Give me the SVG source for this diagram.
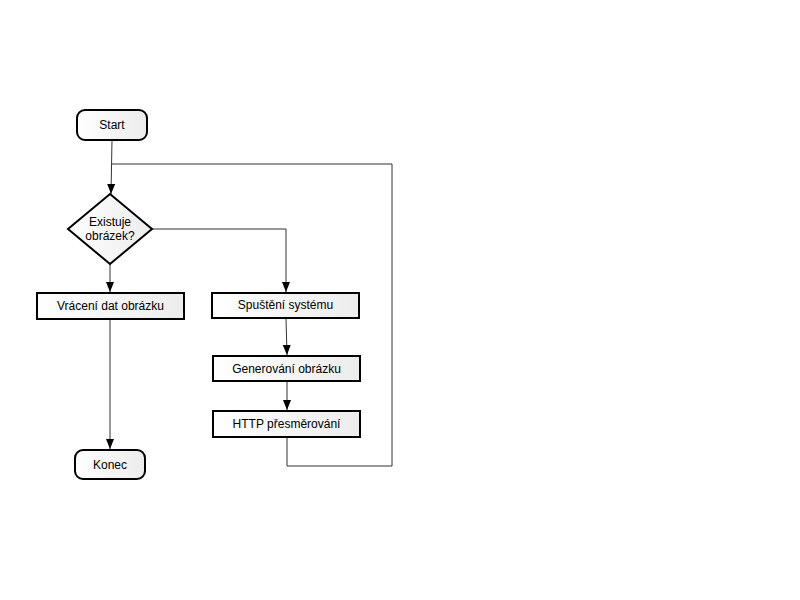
<svg xmlns="http://www.w3.org/2000/svg" width="800" height="600" viewBox="0 0 800 600">
<style>
.n{fill:url(#g);stroke:#000;stroke-width:2}
.t{font-family:"Liberation Sans",Arial,sans-serif;font-size:12px;fill:#000;text-anchor:middle;dominant-baseline:central}
.c{fill:none;stroke:#333;stroke-width:1}
</style>
<defs>
<linearGradient id="g" x1="0" y1="0" x2="1" y2="0">
<stop offset="0" stop-color="#ffffff"/>
<stop offset="1" stop-color="#ececec"/>
</linearGradient>
<marker id="a" markerWidth="12" markerHeight="12" refX="10" refY="5" orient="auto" markerUnits="userSpaceOnUse">
<path d="M0,1 L10,5 L0,9 Z" fill="#000"/>
</marker>
</defs>
<rect width="800" height="600" fill="#fff"/>
<g id="connectors">
<path class="c" d="M112,140 L111,194" marker-end="url(#a)"/>
<path class="c" d="M287,437 L287,466 L392,466 L392,164 L111,164"/>
<path class="c" d="M152,229 L286,229 L286,292" marker-end="url(#a)"/>
<path class="c" d="M110,264 L110,292" marker-end="url(#a)"/>
<path class="c" d="M110,320 L110,449" marker-end="url(#a)"/>
<path class="c" d="M286,319 L287,355" marker-end="url(#a)"/>
<path class="c" d="M287,382 L287,410" marker-end="url(#a)"/>
</g>
<g id="start">
<rect class="n" x="77" y="110" width="70" height="30" rx="8"/>
<text class="t" x="112" y="125">Start</text>
</g>
<g id="decision">
<polygon class="n" points="110,194 152,229 110,264 68,229"/>
<text class="t" x="110" y="222">Existuje</text>
<text class="t" x="110" y="236">obrázek?</text>
</g>
<g id="vraceni">
<rect class="n" x="37" y="293" width="147" height="26"/>
<text class="t" x="110.5" y="306">Vrácení dat obrázku</text>
</g>
<g id="konec">
<rect class="n" x="75" y="450" width="70" height="29" rx="8"/>
<text class="t" x="110" y="464.5">Konec</text>
</g>
<g id="spusteni">
<rect class="n" x="212" y="293" width="147" height="25"/>
<text class="t" x="285.5" y="305">Spuštění systému</text>
</g>
<g id="generovani">
<rect class="n" x="213" y="356" width="147" height="25"/>
<text class="t" x="286.5" y="368.5">Generování obrázku</text>
</g>
<g id="http">
<rect class="n" x="213" y="411" width="147" height="26"/>
<text class="t" x="286.5" y="424">HTTP přesměrování</text>
</g>
</svg>
